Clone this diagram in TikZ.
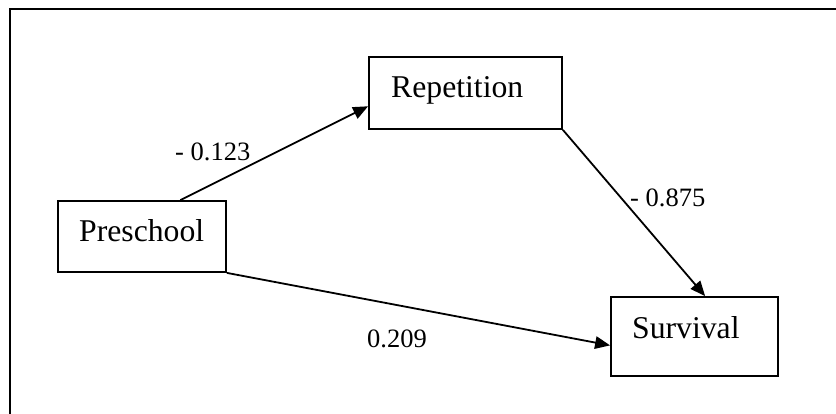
\documentclass[tikz,border=0pt]{standalone}
\usepackage{fontspec}
\setmainfont{Liberation Serif}
\usetikzlibrary{arrows.meta,calc}
\begin{document}
\begin{tikzpicture}[x=1pt,y=-1pt,
  box/.style={draw,line width=1.8pt,rectangle,inner sep=0pt,fill=white},
  boxtext/.style={anchor=base west,inner sep=0pt,font=\fontsize{31.7}{38}\selectfont},
  coef/.style={anchor=base west,inner sep=0pt,font=\fontsize{26.5}{32}\selectfont},
  link/.style={line width=1.8pt,-{Triangle[length=15pt,width=12.5pt]}}]
\useasboundingbox (0,0) rectangle (836,414);
% outer frame (top and left edges)
\draw[line width=2pt] (10,414) -- (10,9) -- (836,9);

% variable boxes
\node[box,minimum width=193pt,minimum height=72pt] (rep) at (465.5,93) {};
\node[box,minimum width=168pt,minimum height=71pt] (pre) at (142,236.5) {};
\node[box,minimum width=167pt,minimum height=79pt] (surv) at (694.5,336.5) {};

\node[boxtext] (reptxt) at (391,98) {Repetition};
\node[boxtext] (pretxt) at (79,242) {Preschool};
\node[boxtext] (survtxt) at (632,338) {Survival};

% path coefficients
\draw[link] ($(pre.north west)!0.726!(pre.north east)$) -- ($(rep.north west)!0.68!(rep.south west)$);
\draw[link] (rep.south east) -- ($(surv.north west)!0.563!(surv.north east)$);
\draw[link] (pre.south east) -- ($(surv.north west)!0.61!(surv.south west)$);

\node[coef] (c1) at (175,161) {- 0.123};
\node[coef] (c2) at (630,207) {- 0.875};
\node[coef] (c3) at (367,347) {0.209};
\end{tikzpicture}
\end{document}
